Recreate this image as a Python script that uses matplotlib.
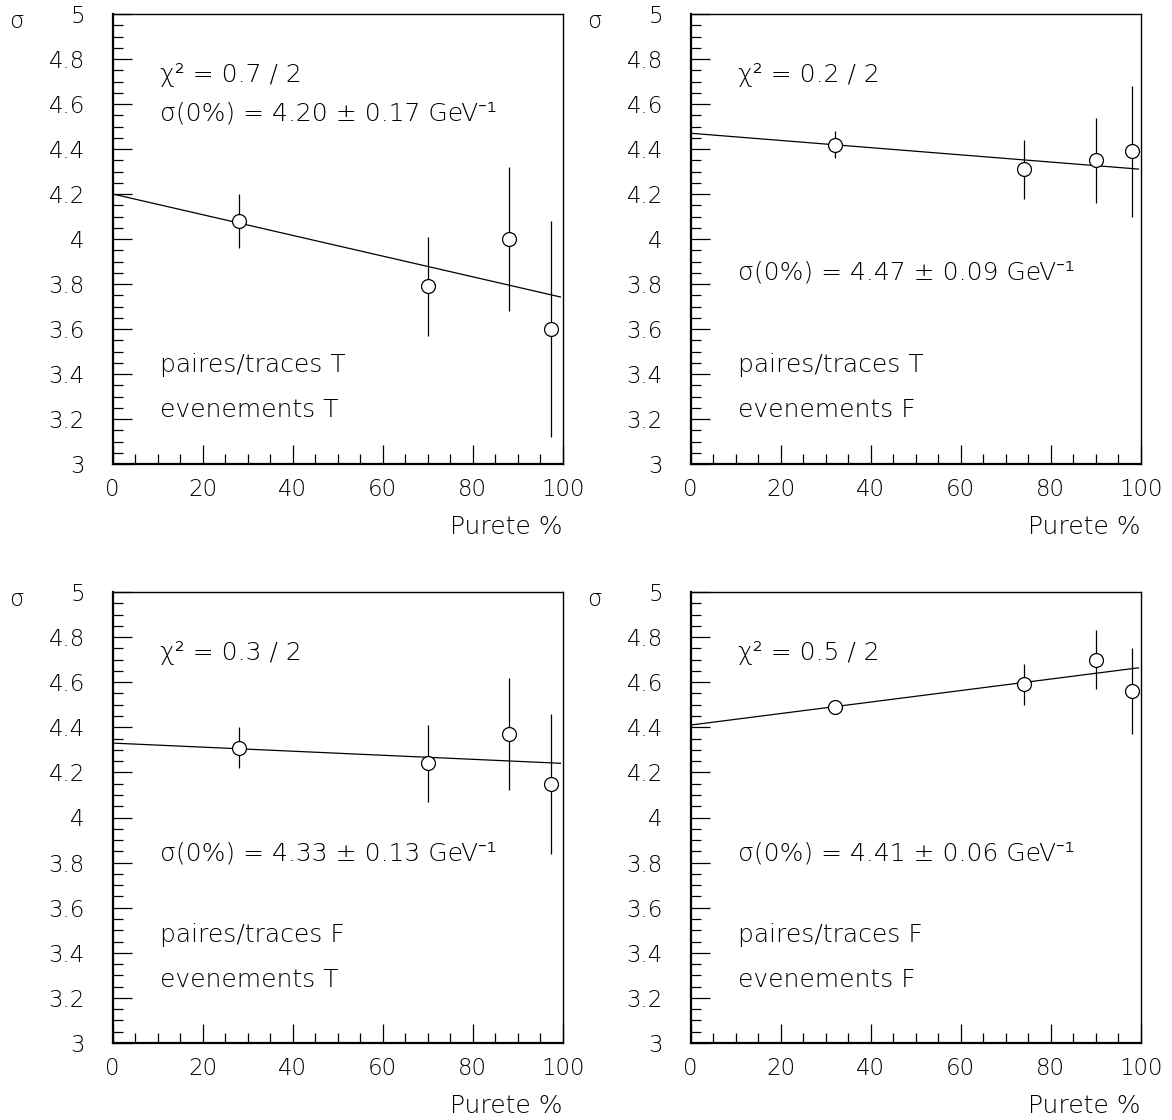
import numpy as np
import matplotlib
matplotlib.use('Agg')
import matplotlib.pyplot as plt
from matplotlib.ticker import MultipleLocator

plt.rcParams['font.family'] = ['DejaVu Sans', 'Noto Sans', 'Liberation Sans']
plt.rcParams['font.weight'] = 'light'

# purity (%) of the four samples
purete_T = [28, 70, 88, 97.5]
purete_F = [32, 74, 90, 98]

# sigma values and errors
sig_TT = [4.08, 3.79, 4.00, 3.60]
err_TT = [0.12, 0.22, 0.32, 0.48]
sig_TF = [4.42, 4.31, 4.35, 4.39]
err_TF = [0.06, 0.13, 0.19, 0.29]
sig_FT = [4.31, 4.24, 4.37, 4.15]
err_FT = [0.09, 0.17, 0.25, 0.31]
sig_FF = [4.49, 4.59, 4.70, 4.56]
err_FF = [0.03, 0.09, 0.13, 0.19]

# linear fits: value at 0% and value at 100%
fit_TT = [4.20, 3.74]
fit_TF = [4.47, 4.31]
fit_FT = [4.33, 4.24]
fit_FF = [4.41, 4.665]

chi2_labels = ['0.7', '0.2', '0.3', '0.5']
sig0_labels = ['4.20 \u00b1 0.17', '4.47 \u00b1 0.09', '4.33 \u00b1 0.13', '4.41 \u00b1 0.06']
flags_pt = ['T', 'T', 'F', 'F']
flags_ev = ['T', 'F', 'T', 'F']

W, H = 1172, 1120
fig = plt.figure(figsize=(W/100, H/100), dpi=100)

# axes boxes in pixels: left, top, right, bottom
boxes = [(112.7, 14, 562.7, 464), (690.7, 14, 1140.7, 464),
         (112.7, 592, 562.7, 1043), (690.7, 592, 1140.7, 1043)]

panels = [(purete_T, sig_TT, err_TT, fit_TT),
          (purete_F, sig_TF, err_TF, fit_TF),
          (purete_T, sig_FT, err_FT, fit_FT),
          (purete_F, sig_FF, err_FF, fit_FF)]

# y position of the texts per panel
sig_text_y = [4.56, 3.85, 3.84, 3.84]
pt_text_y = [3.44, 3.44, 3.48, 3.48]
ev_text_y = [3.24, 3.24, 3.28, 3.28]

fs = 18
tfs = 16.5
for i, (box, (px, sy, se, fit)) in enumerate(zip(boxes, panels)):
    l, t, r, b = box
    ax = fig.add_axes([l/W, 1 - b/H, (r-l)/W, (b-t)/H])
    ax.set_xlim(0, 100)
    ax.set_ylim(3, 5)
    for s in ax.spines.values():
        s.set_linewidth(1.0)
    ax.spines['left'].set_linewidth(1.6)
    ax.spines['bottom'].set_linewidth(1.6)

    ax.xaxis.set_major_locator(MultipleLocator(20))
    ax.xaxis.set_minor_locator(MultipleLocator(5))
    ax.yaxis.set_major_locator(MultipleLocator(0.2))
    ax.yaxis.set_minor_locator(MultipleLocator(0.05))
    ax.yaxis.set_major_formatter(plt.FuncFormatter(lambda v, p: ('%.1f' % v).rstrip('0').rstrip('.')))
    ax.tick_params(which='major', direction='in', length=14, width=0.9, labelsize=tfs,
                   top=False, right=False, colors='black')
    ax.tick_params(which='minor', direction='in', length=7, width=0.9, top=False, right=False)
    ax.tick_params(axis='x', pad=10)
    ax.tick_params(axis='y', pad=20)

    # fit line
    ax.plot([0, 99.5], [fit[0], fit[0] + (fit[1]-fit[0])*0.995], color='black', lw=0.9, zorder=2)
    ax.errorbar(px, sy, yerr=se, fmt='o', ms=10, mfc='white', mec='black', mew=0.9,
                ecolor='black', elinewidth=0.9, capsize=0, zorder=3)

    ax.text(10.5, 4.73, '\u03c7\u00b2 = ' + chi2_labels[i] + ' / 2', fontsize=fs, va='center')
    ax.text(10.5, sig_text_y[i], '\u03c3(0%) = ' + sig0_labels[i] + ' GeV\u207b\u00b9', fontsize=fs, va='center')
    ax.text(10.5, pt_text_y[i], 'paires/traces ' + flags_pt[i], fontsize=fs, va='center')
    ax.text(10.5, ev_text_y[i], 'evenements ' + flags_ev[i], fontsize=fs, va='center')

    fig.text((l - 96)/W, 1 - (t + 8)/H, '\u03c3', fontsize=tfs, ha='center', va='center')
    fig.text(r/W, 1 - (b + 63)/H, 'Purete %', fontsize=fs, ha='right', va='center')

fig.savefig('out.png', dpi=100)
